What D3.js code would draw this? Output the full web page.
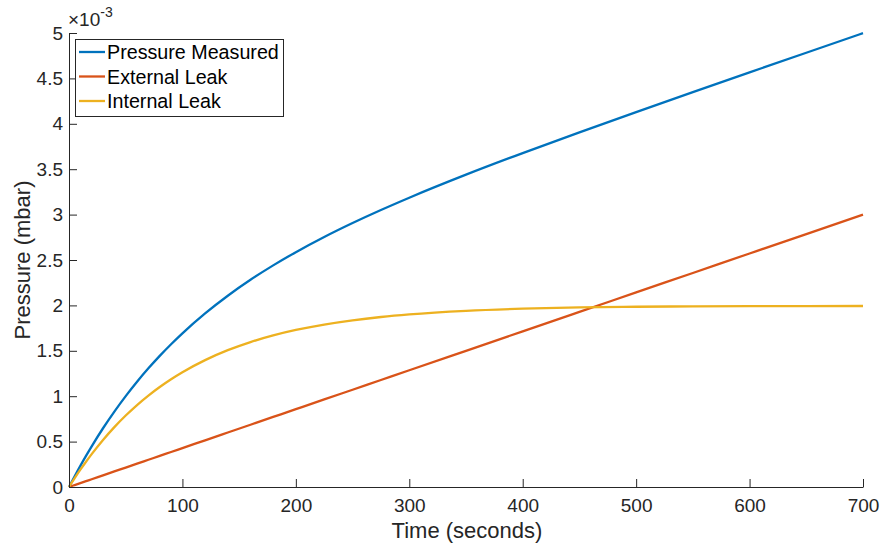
<!DOCTYPE html>
<html>
<head>
<meta charset="utf-8">
<script src="https://cdn.jsdelivr.net/npm/d3@7"></script>
<style>
  html, body { margin: 0; padding: 0; background: #fff; }
  svg { display: block; font-family: "Liberation Sans", Arial, Helvetica, sans-serif; }
</style>
</head>
<body>
<svg id="chart" width="882" height="546"></svg>
<script>
// Sample times (seconds)
const timeSeconds = [0, 5, 10, 15, 20, 30, 40, 50, 60, 70, 80, 90, 100, 120, 140, 160, 180, 200,
  225, 250, 275, 300, 350, 400, 450, 500, 550, 600, 650, 700];

// Pressures in units of 1e-3 mbar
const pressureMeasured = [0, 0.1189, 0.2332, 0.3429, 0.4482, 0.6470, 0.8308, 1.0012, 1.1595, 1.3068,
  1.4442, 1.5726, 1.6928, 1.9119, 2.1068, 2.2819, 2.4408, 2.5864, 2.7535, 2.9072, 3.0507, 3.1861,
  3.4396, 3.6777, 3.9064, 4.1294, 4.3489, 4.5664, 4.7827, 4.9982];
const externalLeak = [0, 0.0214, 0.0429, 0.0643, 0.0857, 0.1286, 0.1714, 0.2143, 0.2571, 0.3000,
  0.3429, 0.3857, 0.4286, 0.5143, 0.6000, 0.6857, 0.7714, 0.8571, 0.9643, 1.0714, 1.1786, 1.2857,
  1.5000, 1.7143, 1.9286, 2.1429, 2.3571, 2.5714, 2.7857, 3.0000];
const internalLeak = [0, 0.0975, 0.1903, 0.2786, 0.3625, 0.5184, 0.6594, 0.7869, 0.9024, 1.0068,
  1.1013, 1.1869, 1.2642, 1.3976, 1.5068, 1.5962, 1.6694, 1.7293, 1.7892, 1.8358, 1.8721, 1.9004,
  1.9396, 1.9634, 1.9778, 1.9850, 1.9890, 1.9910, 1.9925, 1.9935];

const seriesNames = ["Pressure Measured", "External Leak", "Internal Leak"];
const seriesColors = ["#0072BD", "#D95319", "#EDB120"];
const xTicks = [0, 100, 200, 300, 400, 500, 600, 700];
const yTicks = [0, 0.5, 1, 1.5, 2, 2.5, 3, 3.5, 4, 4.5, 5];

const axisColor = "#262626";
const svg = d3.select("#chart");
const plot = { left: 69, right: 863, top: 33, bottom: 487 };

const x = d3.scaleLinear().domain([0, 700]).range([plot.left, plot.right]);
const y = d3.scaleLinear().domain([0, 5]).range([plot.bottom, plot.top]);

// Data lines
const allSeries = [pressureMeasured, externalLeak, internalLeak];
const line = d3.line()
  .x((d, i) => x(timeSeconds[i]))
  .y(d => y(d))
  .curve(d3.curveMonotoneX);

svg.append("g").selectAll("path")
  .data(allSeries)
  .join("path")
  .attr("d", d => line(d))
  .attr("fill", "none")
  .attr("stroke", (d, i) => seriesColors[i])
  .attr("stroke-width", 2.3);

// Axes with inward ticks
const xAxis = d3.axisBottom(x).tickValues(xTicks).tickSizeInner(-8).tickSizeOuter(0)
  .tickFormat(d3.format("d"));
const yAxis = d3.axisLeft(y).tickValues(yTicks).tickSizeInner(-8).tickSizeOuter(0)
  .tickFormat(d => d3.format("")(d));

const gx = svg.append("g").attr("transform", `translate(0,${plot.bottom})`).call(xAxis);
const gy = svg.append("g").attr("transform", `translate(${plot.left},0)`).call(yAxis);

[gx, gy].forEach(g => {
  g.select(".domain").attr("stroke", axisColor).attr("stroke-width", 1);
  g.selectAll(".tick line").attr("stroke", axisColor).attr("stroke-width", 1);
  g.selectAll(".tick text").attr("fill", axisColor).attr("font-size", 19)
    .attr("font-family", "Liberation Sans, Arial, sans-serif");
});
gx.selectAll(".tick text").attr("dy", "0.71em").attr("y", 12);
gy.selectAll(".tick text").attr("x", -6);

// Exponent label
const expo = svg.append("text")
  .attr("x", 68).attr("y", 26)
  .attr("fill", axisColor).attr("font-size", 19);
expo.append("tspan").text("\u00d710");
expo.append("tspan").attr("font-size", 14).attr("dy", -9).text("-3");

// Axis titles
svg.append("text")
  .attr("x", (plot.left + plot.right) / 2 + 1).attr("y", 538)
  .attr("text-anchor", "middle").attr("fill", axisColor).attr("font-size", 22)
  .text("Time (seconds)");
svg.append("text")
  .attr("transform", `translate(30,${(plot.top + plot.bottom) / 2}) rotate(-90)`)
  .attr("text-anchor", "middle").attr("fill", axisColor).attr("font-size", 22)
  .text("Pressure (mbar)");

// Legend
const legend = svg.append("g").attr("transform", "translate(75,39)");
legend.append("rect")
  .attr("x", 0.5).attr("y", 0.5).attr("width", 208).attr("height", 77)
  .attr("fill", "#fff").attr("stroke", axisColor).attr("stroke-width", 1);
const rows = legend.selectAll("g.row").data(seriesNames).join("g")
  .attr("class", "row")
  .attr("transform", (d, i) => `translate(0,${13 + i * 24.5})`);
rows.append("line")
  .attr("x1", 4).attr("x2", 30).attr("y1", 0).attr("y2", 0)
  .attr("stroke", (d, i) => seriesColors[i]).attr("stroke-width", 2.3);
rows.append("text")
  .attr("x", 32).attr("y", 0).attr("dy", "0.36em")
  .attr("fill", "#000").attr("font-size", 19.7)
  .text(d => d);
</script>
</body>
</html>
